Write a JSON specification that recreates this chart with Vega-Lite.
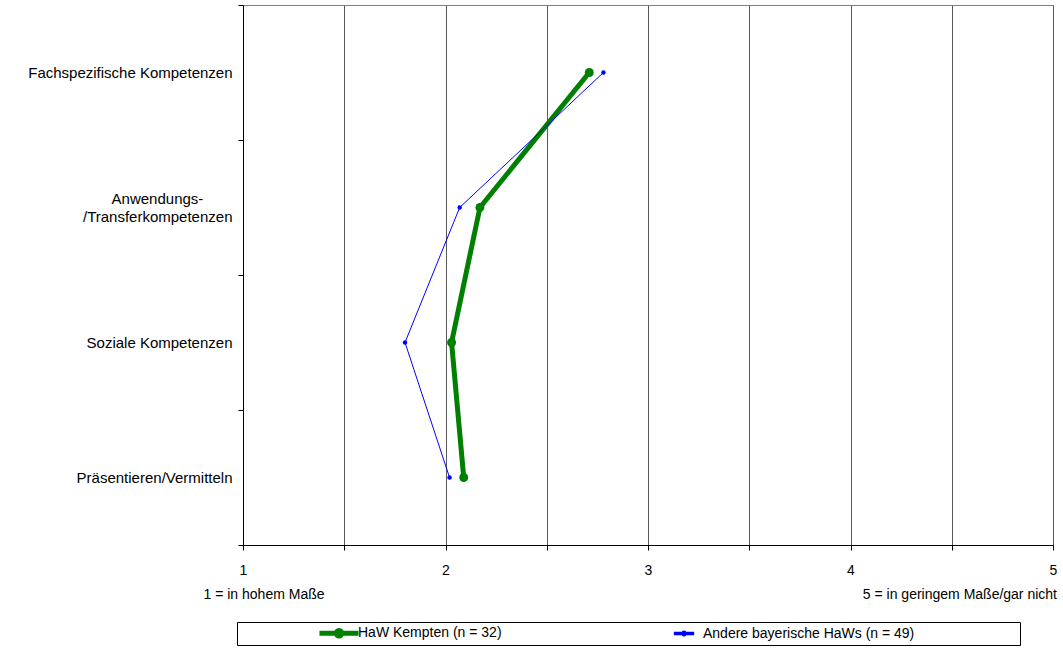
{
  "$schema": "https://vega.github.io/schema/vega-lite/v6.json",
  "width": 810,
  "height": 540,
  "autosize": {"type": "none"},
  "padding": {"left": 243, "top": 5, "right": 10, "bottom": 105},
  "background": "white",
  "config": {
    "font": "Liberation Sans",
    "view": {"stroke": "#808080", "strokeWidth": 1},
    "axis": {"labelFont": "Liberation Sans", "titleFont": "Liberation Sans", "labelColor": "black", "titleColor": "black", "domainColor": "black", "tickColor": "black", "titleFontWeight": "normal"},
    "legend": {"labelFont": "Liberation Sans"},
    "title": {"font": "Liberation Sans"}
  },
  "title": {
    "text": "5 = in geringem Maße/gar nicht",
    "orient": "bottom",
    "anchor": "end",
    "frame": "group",
    "fontSize": 14,
    "fontWeight": "normal",
    "color": "black",
    "offset": -58,
    "dx": 4
  },
  "data": {
    "values": [
      {"kategorie": "Fachspezifische Kompetenzen", "nr": 1, "gruppe": "HaW Kempten (n = 32)", "wert": 2.71},
      {"kategorie": "Anwendungs-/Transferkompetenzen", "nr": 2, "gruppe": "HaW Kempten (n = 32)", "wert": 2.17},
      {"kategorie": "Soziale Kompetenzen", "nr": 3, "gruppe": "HaW Kempten (n = 32)", "wert": 2.03},
      {"kategorie": "Präsentieren/Vermitteln", "nr": 4, "gruppe": "HaW Kempten (n = 32)", "wert": 2.09},
      {"kategorie": "Fachspezifische Kompetenzen", "nr": 1, "gruppe": "Andere bayerische HaWs (n = 49)", "wert": 2.78},
      {"kategorie": "Anwendungs-/Transferkompetenzen", "nr": 2, "gruppe": "Andere bayerische HaWs (n = 49)", "wert": 2.07},
      {"kategorie": "Soziale Kompetenzen", "nr": 3, "gruppe": "Andere bayerische HaWs (n = 49)", "wert": 1.8},
      {"kategorie": "Präsentieren/Vermitteln", "nr": 4, "gruppe": "Andere bayerische HaWs (n = 49)", "wert": 2.02}
    ]
  },
  "encoding": {
    "x": {
      "field": "wert",
      "type": "quantitative",
      "scale": {"domain": [1, 5], "nice": false, "zero": false},
      "axis": {
        "values": [1, 1.5, 2, 2.5, 3, 3.5, 4, 4.5, 5],
        "labelExpr": "datum.value % 1 === 0 ? format(datum.value, 'd') : ''",
        "grid": true,
        "gridColor": "#5a5a5a",
        "gridWidth": 1,
        "tickSize": 5,
        "labelFontSize": 14,
        "labelPadding": 13,
        "labelFlush": false,
        "title": "1 = in hohem Maße",
        "titleFontSize": 14,
        "titleAnchor": "start",
        "titleAlign": "left",
        "titleX": -40,
        "titlePadding": 10
      }
    },
    "y": {
      "field": "kategorie",
      "type": "nominal",
      "sort": ["Fachspezifische Kompetenzen", "Anwendungs-/Transferkompetenzen", "Soziale Kompetenzen", "Präsentieren/Vermitteln"],
      "scale": {"type": "band", "paddingInner": 0, "paddingOuter": 0},
      "axis": {
        "title": null,
        "tickBand": "extent",
        "tickSize": 5,
        "labelFontSize": 15,
        "labelLineHeight": 18,
        "labelLimit": 300,
        "labelPadding": 6,
        "labelExpr": "datum.value === 'Anwendungs-/Transferkompetenzen' ? ['Anwendungs-\u00a0\u00a0\u00a0\u00a0\u00a0\u00a0\u00a0\u200b', '/Transferkompetenzen'] : datum.label",
        "labelOffset": {"condition": {"test": "datum.value === 'Anwendungs-/Transferkompetenzen'", "value": -9}, "value": 0}
      }
    },
    "color": {
      "field": "gruppe",
      "type": "nominal",
      "scale": {"domain": ["HaW Kempten (n = 32)", "Andere bayerische HaWs (n = 49)"], "range": ["#008000", "#0000ff"]},
      "legend": {
        "orient": "none",
        "legendX": -6,
        "legendY": 617,
        "direction": "horizontal",
        "title": null,
        "strokeColor": "black",
        "padding": 4,
        "symbolOffset": 91,
        "symbolType": "M-4.2,-0.4H4.2V0.4H-4.2ZM1,0A1,1 0 1 1 -1,0A1,1 0 1 1 1,0Z",
        "symbolOpacity": 1,
        "labelFontSize": 14,
        "labelColor": "black",
        "labelOffset": 12,
        "labelLimit": 500,
        "columnPadding": 84,
        "labelExpr": "datum.value === 'Andere bayerische HaWs (n = 49)' ? pad(datum.label, 57, '\u00a0', 'right') + '\u200b' : datum.label"
      }
    }
  },
  "layer": [
    {
      "mark": {"type": "point", "filled": true, "opacity": 1},
      "encoding": {
        "size": {
          "field": "gruppe",
          "type": "nominal",
          "scale": {"domain": ["HaW Kempten (n = 32)", "Andere bayerische HaWs (n = 49)"], "range": [80, 20]}
        }
      }
    },
    {
      "transform": [{"filter": "datum.gruppe === 'HaW Kempten (n = 32)'"}],
      "mark": {"type": "line", "strokeWidth": 5},
      "encoding": {"order": {"field": "nr", "type": "quantitative"}}
    },
    {
      "transform": [{"filter": "datum.gruppe === 'Andere bayerische HaWs (n = 49)'"}],
      "mark": {"type": "line", "strokeWidth": 1},
      "encoding": {"order": {"field": "nr", "type": "quantitative"}}
    }
  ]
}
